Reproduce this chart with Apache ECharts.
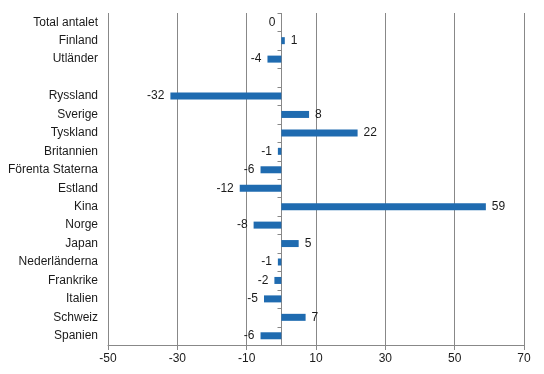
<!DOCTYPE html>
<html><head><meta charset="utf-8">
<script src="https://cdn.jsdelivr.net/npm/echarts@6/dist/echarts.min.js"></script>
<style>html,body{margin:0;padding:0;background:#fff}#c{width:544px;height:374px}</style>
</head><body><div id="c"></div>
<script>
const categories = ["Total antalet","Finland","Utländer","","Ryssland","Sverige","Tyskland","Britannien","Förenta Staterna","Estland","Kina","Norge","Japan","Nederländerna","Frankrike","Italien","Schweiz","Spanien"];
const values = [0,1,-4,null,-32,8,22,-1,-6,-12,59,-8,5,-1,-2,-5,7,-6];
const xTicks = [-50,-30,-10,10,30,50,70];

const chart = echarts.init(document.getElementById('c'));
const font = 'Liberation Sans, Arial, sans-serif';
const gridLeft = 108, gridRight = 20, gTop = 13, gBottom = 29;
const xMin = xTicks[0], xMax = xTicks[xTicks.length-1];
chart.setOption({
  animation:false,
  grid:{left:gridLeft,right:gridRight,top:gTop,bottom:gBottom,containLabel:false},
  xAxis:{type:'value',min:xMin,max:xMax,interval:20,
     axisLine:{show:true,onZero:false,lineStyle:{color:'#888',width:1}},
     axisTick:{show:true,length:5,lineStyle:{color:'#888'}},
     axisLabel:{color:'#1a1a1a',fontFamily:font,fontSize:12,margin:8},
     splitLine:{show:true,lineStyle:{color:'#888',width:1}}},
  yAxis:{type:'category',data:categories,inverse:true,
     axisLine:{show:false,onZero:false},
     axisTick:{show:false},
     axisLabel:{color:'#1a1a1a',fontFamily:font,fontSize:12,margin:10}},
  series:[{type:'bar',barWidth:7,z:5,
    data:values.map(v=>v===null?null:{value:v,label:{position:v>0?'right':'left'}}),
    itemStyle:{color:'#1f6bb0'},
    label:{show:true,color:'#1a1a1a',fontFamily:font,fontSize:12,distance:6,formatter:p=>p.value},
    markLine:{silent:true,symbol:'none',label:{show:false},z:1,
      lineStyle:{color:'#888',width:1,type:'solid'},data:[{xAxis:0}]}
  }]
});
const n = categories.length;
const y0 = chart.convertToPixel({yAxisIndex:0}, 0);
const y1 = chart.convertToPixel({yAxisIndex:0}, 1);
const band = y1 - y0;
const zx = Math.round(chart.convertToPixel({xAxisIndex:0}, 0)) + 0.5;
const ticks = [];
for (let i = 0; i <= n; i++) {
  const y = Math.round(y0 - band/2 + i*band) + 0.5;
  ticks.push({type:'line',z:1,silent:true,shape:{x1:zx-4,y1:y,x2:zx,y2:y},style:{stroke:'#888',lineWidth:1}});
}
chart.setOption({graphic:ticks});
</script></body></html>
